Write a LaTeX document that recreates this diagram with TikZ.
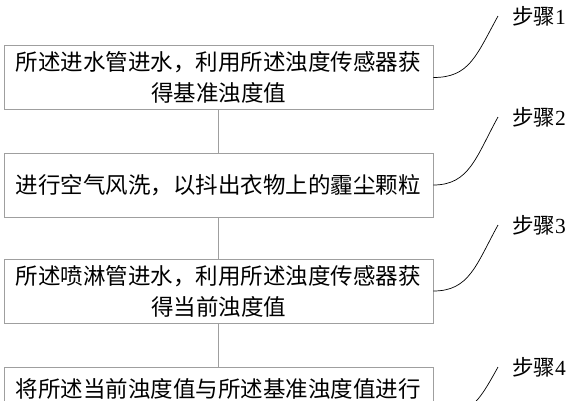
\documentclass[tikz,border=0pt]{standalone}
\usepackage{fontspec}
\setmainfont{Liberation Serif}
\newfontfamily\cjk{Noto Sans CJK SC}
\usepackage{tikz}
\usetikzlibrary{positioning}

\begin{document}
\begin{tikzpicture}[
                x=1pt, y=-1pt,
                block/.style={rectangle, draw=gray!75, line width=0.8pt, minimum width=429pt, minimum height=64pt, inner sep=0pt, align=center, font=\fontsize{22.5}{31}\selectfont\cjk},
                steplabel/.style={anchor=west, inner xsep=14pt, inner ysep=0pt, font=\fontsize{21.5}{24}\selectfont},
                link/.style={draw=gray!75, line width=0.8pt},
                tag/.style={draw, line width=0.7pt}
            ]
            \useasboundingbox (0,0) rectangle (570,400);
            \clip (0,0) rectangle (570,400);

            % Nodes
            \node (b1) at (218.5,77.5) [block] {所述进水管进水，利用所述浊度传感器获\\得基准浊度值};
            \node (b2) at (218.5,185) [block] {进行空气风洗，以抖出衣物上的霾尘颗粒};
            \node (b3) at (218.5,291) [block] {所述喷淋管进水，利用所述浊度传感器获\\得当前浊度值};
            \node (b4) at (218.5,415) [block, minimum height=96pt, text depth=54pt] {将所述当前浊度值与所述基准浊度值进行};
            \node (s1) at (498,16) [steplabel] {{\cjk 步骤}1};
            \node (s2) at (498,117) [steplabel] {{\cjk 步骤}2};
            \node (s3) at (498,225) [steplabel] {{\cjk 步骤}3};
            \node (s4) at (498,367) [steplabel] {{\cjk 步骤}4};

            % Lines
            \draw[link] (b1) -- (b2);
            \draw[link] (b2) -- (b3);
            \draw[link] (b3) -- (b4);
            \draw[tag] (b1.east) .. controls +(36,0) and +(-22,40) .. (s1.west);
            \draw[tag] (b2.east) .. controls +(36,0) and +(-22,40) .. (s2.west);
            \draw[tag] (b3.east) .. controls +(36,0) and +(-22,40) .. (s3.west);
            \draw[tag] (b4.east) .. controls +(36,0) and +(-22,40) .. (s4.west);

\end{tikzpicture}
\end{document}
